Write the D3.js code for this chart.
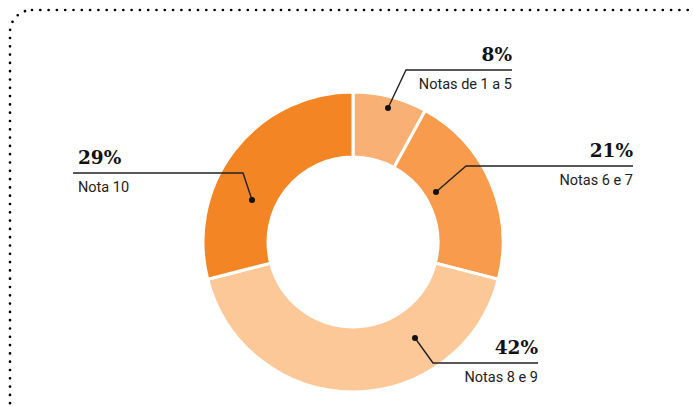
<!DOCTYPE html>
<html><head><meta charset="utf-8">
<script src="https://cdn.jsdelivr.net/npm/d3@7"></script>
<style>body{margin:0;background:#fff}svg{display:block}</style>
</head><body>
<script>
const categories = ["Notas de 1 a 5", "Notas 6 e 7", "Notas 8 e 9", "Nota 10"];
const values = [8, 21, 42, 29];
const colors = ["#F9B074", "#F89B4C", "#FDC898", "#F38524"];

// annotation layout: dot, elbow, line end, text anchor side
const annos = [
  {dot:[388,108], elbow:[406,70], end:512, align:"end"},
  {dot:[436,192], elbow:[466,166], end:633, align:"end"},
  {dot:[415,338], elbow:[433,363], end:538, align:"end"},
  {dot:[252,200], elbow:[243,173], end:73, align:"start"}
];

const W = 693, H = 407;
const svg = d3.select("body").append("svg").attr("width", W).attr("height", H);

// dotted border
svg.append("rect").attr("x",10).attr("y",10).attr("width",720).attr("height",440)
  .attr("rx",22).attr("ry",22).attr("fill","none").attr("stroke","#000")
  .attr("stroke-width",2.7).attr("stroke-linecap","round").attr("stroke-dasharray","0 8.3");

const cx = 353, cy = 242, R = 150, r = 85;
const pie = d3.pie().sort(null).value(d => d)(values);
const arc = d3.arc().innerRadius(r).outerRadius(R);
const g = svg.append("g").attr("transform",`translate(${cx},${cy})`);
g.selectAll("path").data(pie).join("path")
  .attr("d", arc).attr("fill",(d,i)=>colors[i])
  .attr("stroke","#fff").attr("stroke-width",3);

annos.forEach((a,i) => {
  const [dx,dy] = a.dot, [ex,ey] = a.elbow;
  svg.append("path").attr("d",`M${dx},${dy}L${ex},${ey}L${a.end},${ey}`)
    .attr("fill","none").attr("stroke","#222").attr("stroke-width",1.4);
  svg.append("circle").attr("cx",dx).attr("cy",dy).attr("r",3).attr("fill","#111");
  const tx = a.align === "end" ? a.end : a.end + 5;
  svg.append("text").attr("x",tx).attr("y",ey-9).attr("text-anchor",a.align)
    .attr("font-family","'DejaVu Serif', serif").attr("font-weight","bold")
    .attr("font-size",18.5).attr("fill","#111").text(values[i] + "%");
  svg.append("text").attr("x",tx).attr("y",ey+19).attr("text-anchor",a.align)
    .attr("font-family","Roboto, 'Liberation Sans Narrow', sans-serif")
    .attr("font-size",14.5).attr("fill","#222").text(categories[i]);
});
</script>
</body></html>
